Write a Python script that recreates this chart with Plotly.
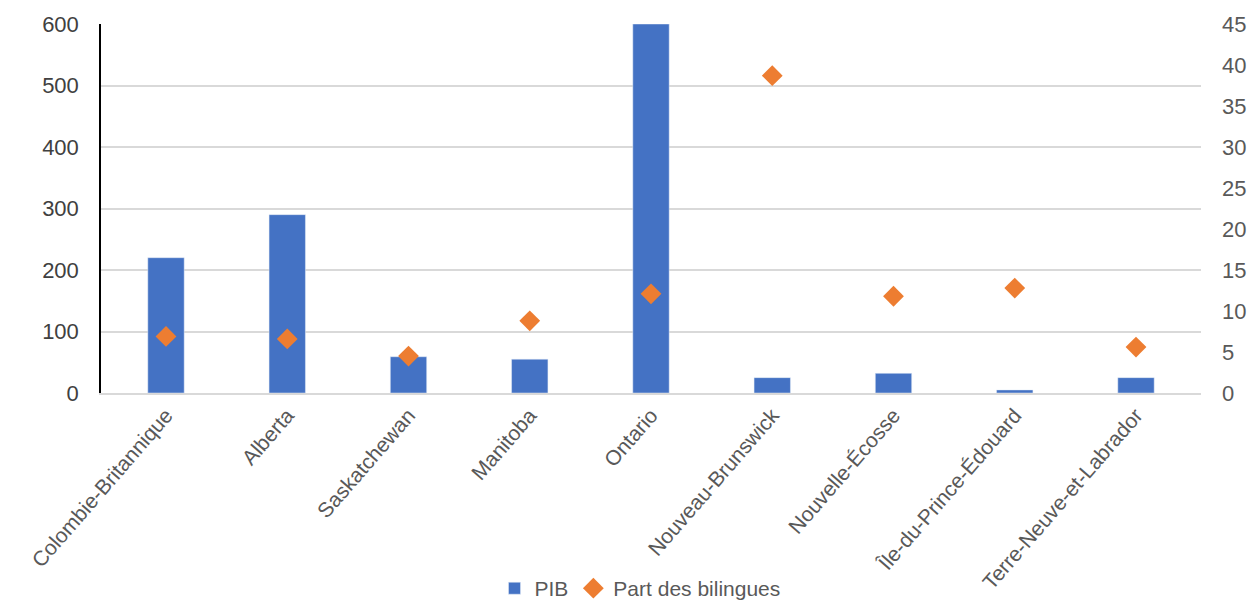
import plotly.graph_objects as go

provinces = ["Colombie-Britannique", "Alberta", "Saskatchewan", "Manitoba", "Ontario",
             "Nouveau-Brunswick", "Nouvelle-Écosse", "Île-du-Prince-Édouard",
             "Terre-Neuve-et-Labrador"]
pib = [220, 290, 59, 55, 600, 25, 32, 5, 25]
part_bilingues = [6.9, 6.6, 4.5, 8.8, 12.1, 38.7, 11.8, 12.8, 5.6]
left_ticks = [0, 100, 200, 300, 400, 500, 600]
right_ticks = [0, 5, 10, 15, 20, 25, 30, 35, 40, 45]

fig = go.Figure()
fig.add_trace(go.Bar(x=provinces, y=pib, name="PIB", marker_color="#4472C4",
                     yaxis="y"))
fig.add_trace(go.Scatter(x=provinces, y=part_bilingues, name="Part des bilingues",
                         mode="markers", yaxis="y2",
                         marker=dict(symbol="diamond", size=16, color="#ED7D31")))

fam = "Liberation Sans, Arial, sans-serif"
fig.update_layout(
    width=1252, height=600,
    margin=dict(l=101, r=51, t=24, b=207, autoexpand=False),
    plot_bgcolor="white", paper_bgcolor="white",
    font=dict(family=fam, size=19, color="#595959"),
    bargap=0.7,
    showlegend=True,
    legend=dict(orientation="h", x=0.49, xanchor="center", y=-0.53, yanchor="middle",
                bgcolor="rgba(0,0,0,0)",
                font=dict(size=21, color="#595959"), itemwidth=30, traceorder="normal"),
    xaxis=dict(tickangle=-49, automargin=False, showgrid=False, ticks="",
               tickfont=dict(size=21, color="#595959"), showline=True,
               linecolor="#d9d9d9", linewidth=1.5),
    yaxis=dict(range=[0, 600], tickvals=left_ticks, showgrid=True, gridcolor="#d9d9d9",
               gridwidth=1.5, showline=True, linecolor="#000000", linewidth=1.5,
               zeroline=False, automargin=False, ticks="", ticklabelstandoff=16,
               tickfont=dict(size=22, color="#404040")),
    yaxis2=dict(range=[0, 45], tickvals=right_ticks, overlaying="y", side="right",
                showgrid=False, zeroline=False, showline=False, automargin=False,
                ticks="", ticklabelstandoff=20,
                tickfont=dict(size=22, color="#595959")),
)

fig.write_html("out.html", config={"displayModeBar": False},
               post_script="document.body.style.margin='0';document.body.style.overflow='hidden';")
